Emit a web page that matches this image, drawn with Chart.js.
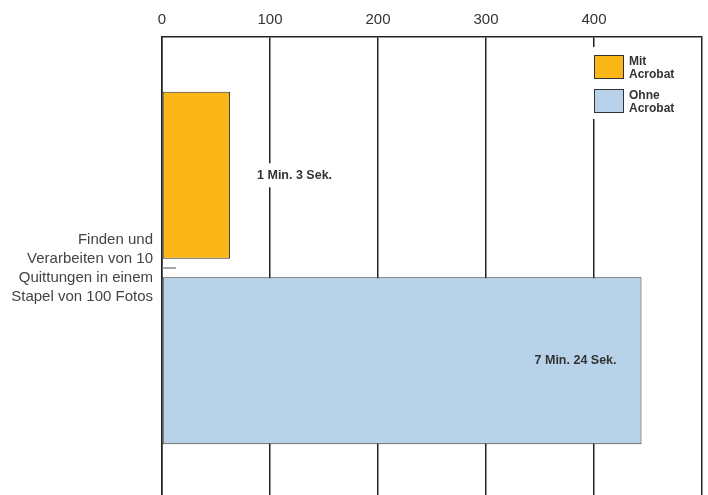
<!DOCTYPE html>
<html>
<head>
<meta charset="utf-8">
<script src="https://cdn.jsdelivr.net/npm/chart.js@4/dist/chart.umd.min.js"></script>
<style>
  html, body { margin: 0; padding: 0; background: #fff; overflow: hidden; }
  #wrap { width: 708px; height: 499px; }
</style>
</head>
<body>
<div id="wrap"><canvas id="timeChart"></canvas></div>
<script>
// data
const categories = [["Finden und", "Verarbeiten von 10", "Quittungen in einem", "Stapel von 100 Fotos"]];
const seriesNames = ["Mit Acrobat", "Ohne Acrobat"];
const mitAcrobat = [63];     // Sekunden
const ohneAcrobat = [444];   // Sekunden
const durationLabels = [["1 Min. 3 Sek."], ["7 Min. 24 Sek."]];
const xTicks = [0, 100, 200, 300, 400];

const colors = ["#FBB718", "#B8D3E9"];
const FONT = "'Liberation Sans', Arial, sans-serif";

// value labels next to / inside the bars + small category tick
const barLabels = {
    id: "barLabels",
    afterDatasetsDraw(chart) {
        const ctx = chart.ctx;
        const area = chart.chartArea;
        ctx.save();
        ctx.font = "bold 12.5px " + FONT;
        ctx.textBaseline = "middle";
        chart.data.datasets.forEach((ds, di) => {
            const meta = chart.getDatasetMeta(di);
            meta.data.forEach((bar, i) => {
                const text = durationLabels[di][i];
                const w = ctx.measureText(text).width;
                if (bar.x - bar.base > w + 60) {
                    ctx.textAlign = "right";
                    ctx.fillStyle = "#333";
                    ctx.fillText(text, bar.x - 25, bar.y);
                } else {
                    const x = bar.x + 27;
                    ctx.fillStyle = "#fff";
                    ctx.fillRect(x - 6, bar.y - 12, w + 12, 24);
                    ctx.textAlign = "left";
                    ctx.fillStyle = "#333";
                    ctx.fillText(text, x, bar.y);
                }
            });
        });
        // category tick
        const yScale = chart.scales.y;
        categories.forEach((c, i) => {
            const y = yScale.getPixelForValue(i);
            ctx.strokeStyle = "#888";
            ctx.lineWidth = 1.5;
            ctx.beginPath();
            ctx.moveTo(area.left, y);
            ctx.lineTo(area.left + 14, y);
            ctx.stroke();
        });
        ctx.restore();
    }
};

// legend box at top right, two-line labels
const sideLegend = {
    id: "sideLegend",
    afterDraw(chart) {
        const ctx = chart.ctx;
        const x0 = chart.scales.x.getPixelForValue(400);
        ctx.save();
        ctx.fillStyle = "#fff";
        ctx.fillRect(x0 - 6, 47, 100, 72);
        chart.data.datasets.forEach((ds, i) => {
            const top = 55 + i * 34;
            ctx.fillStyle = ds.backgroundColor;
            ctx.fillRect(x0, top, 30, 24);
            ctx.strokeStyle = "#333";
            ctx.lineWidth = 1;
            ctx.strokeRect(x0 + 0.5, top + 0.5, 29, 23);
            const parts = ds.label.split(" ");
            ctx.fillStyle = "#333";
            ctx.font = "bold 12px " + FONT;
            ctx.textAlign = "left";
            ctx.textBaseline = "middle";
            ctx.fillText(parts[0], x0 + 35, top + 6.5);
            ctx.fillText(parts.slice(1).join(" "), x0 + 35, top + 19.5);
        });
        ctx.restore();
    }
};

new Chart(document.getElementById("timeChart"), {
    type: "bar",
    data: {
        labels: categories,
        datasets: [{
            label: seriesNames[0],
            data: mitAcrobat,
            backgroundColor: colors[0],
            borderColor: "#333",
            borderWidth: 1,
            borderSkipped: false,
            categoryPercentage: 0.803,
            barPercentage: 0.9
        }, {
            label: seriesNames[1],
            data: ohneAcrobat,
            backgroundColor: colors[1],
            borderColor: "#333",
            borderWidth: 1,
            borderSkipped: false,
            categoryPercentage: 0.803,
            barPercentage: 0.9
        }]
    },
    options: {
        indexAxis: "y",
        responsive: true,
        maintainAspectRatio: false,
        animation: false,
        layout: { padding: { top: 0, right: 6, bottom: 0, left: 0 } },
        plugins: {
            legend: { display: false },
            tooltip: { enabled: false }
        },
        scales: {
            x: {
                position: "top",
                min: 0,
                max: 500,
                afterFit(scale) {
                    scale.height = 37;
                    scale.paddingLeft = 0;
                    scale.paddingRight = 0;
                },
                afterBuildTicks(scale) {
                    scale.ticks = xTicks.concat([500]).map(v => ({ value: v }));
                },
                grid: { color: "#222", lineWidth: 1.5, drawTicks: false },
                border: { display: true, color: "#222", width: 1.5 },
                ticks: {
                    padding: 8,
                    color: "#333",
                    font: { family: FONT, size: 15 },
                    callback: v => xTicks.includes(v) ? String(v) : ""
                }
            },
            y: {
                afterFit(scale) {
                    scale.width = 162;
                    scale.paddingTop = 0;
                    scale.paddingBottom = 0;
                },
                grid: { display: false, drawTicks: false },
                border: { display: true, color: "#222", width: 1.5 },
                ticks: {
                    padding: 9,
                    color: "#444",
                    font: { family: FONT, size: 15, lineHeight: 1.27 }
                }
            }
        }
    },
    plugins: [barLabels, sideLegend]
});
</script>
</body>
</html>
